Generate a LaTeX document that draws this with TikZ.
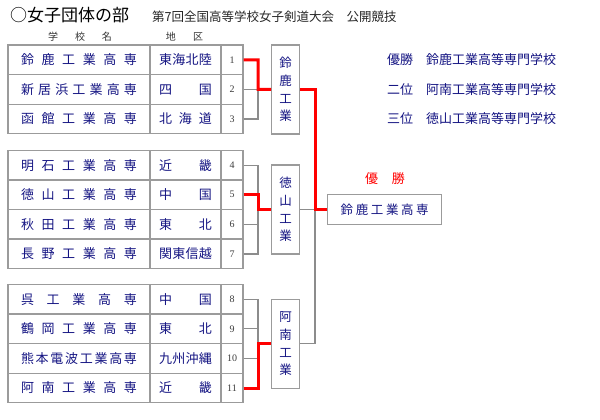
\documentclass[tikz,border=0pt]{standalone}
\usepackage{fontspec}
\newfontfamily\jp{Noto Sans CJK JP}
\newfontfamily\numf{Liberation Serif}
\definecolor{navy}{RGB}{20,20,130}
\definecolor{gridgray}{RGB}{155,155,155}
\definecolor{linegray}{RGB}{140,140,140}
\definecolor{numgray}{RGB}{60,60,60}
\tikzset{
  cellbase/.style={draw=gridgray, line width=1.3pt, minimum height=29.6pt, inner sep=0pt, text=navy, font=\jp\fontsize{13}{13}\selectfont},
  namecell/.style={cellbase, minimum width=142pt},
  regcell/.style={cellbase, minimum width=71pt},
  numcell/.style={cellbase, minimum width=22pt, text=numgray, font=\numf\fontsize{10}{10}\selectfont},
  winbox/.style={draw=gridgray, line width=1.3pt, minimum width=28pt, minimum height=89pt, inner sep=0pt, text=navy, align=center, font=\jp\fontsize{12.5}{17.7}\selectfont},
  finalbox/.style={draw=gridgray, line width=1.3pt, minimum width=114pt, minimum height=29.7pt, inner sep=0pt, text=navy, font=\jp\fontsize{12.5}{12.5}\selectfont},
  grayline/.style={draw=linegray, line width=1.2pt},
  redline/.style={draw=red, line width=3pt},
  plain/.style={inner sep=0pt, font=\jp}
}
\newcommand\schoolrow[4]{%
  \node[namecell] (n#1) at (79,#2) {\makebox[116pt][s]{#3}};
  \node[regcell] (r#1) at (185.5,#2) {\makebox[53pt][s]{#4}};
  \node[numcell] (k#1) at (232,#2) {#1};
}
\begin{document}
\begin{tikzpicture}[x=1pt,y=-1pt]
\useasboundingbox (0,0) rectangle (600,420);
% title
\node[plain, anchor=west, font=\jp\fontsize{17}{17}\selectfont] (title) at (10,15.5) {○女子団体の部};
\node[plain, anchor=west, font=\jp\fontsize{12.5}{12.5}\selectfont, text=black!85] (sub) at (152,17) {第7回全国高等学校女子剣道大会　公開競技};
% headers
\node[plain, font=\jp\fontsize{10}{10}\selectfont, text=black!80] (h1) at (80,37) {\makebox[64pt][s]{学\hfill 校\hfill 名}};
\node[plain, font=\jp\fontsize{10}{10}\selectfont, text=black!80] (h2) at (184.4,37) {\makebox[37.3pt][s]{地\hfill 区}};
% group 1
\schoolrow{1}{59.8}{鈴\hfill 鹿\hfill 工\hfill 業\hfill 高\hfill 専}{東\hfill 海\hfill 北\hfill 陸}
\schoolrow{2}{89.4}{新\hfill 居\hfill 浜\hfill 工\hfill 業\hfill 高\hfill 専}{四\hfill 国}
\schoolrow{3}{119.0}{函\hfill 館\hfill 工\hfill 業\hfill 高\hfill 専}{北\hfill 海\hfill 道}
% group 2
\schoolrow{4}{165.1}{明\hfill 石\hfill 工\hfill 業\hfill 高\hfill 専}{近\hfill 畿}
\schoolrow{5}{194.7}{徳\hfill 山\hfill 工\hfill 業\hfill 高\hfill 専}{中\hfill 国}
\schoolrow{6}{224.3}{秋\hfill 田\hfill 工\hfill 業\hfill 高\hfill 専}{東\hfill 北}
\schoolrow{7}{253.9}{長\hfill 野\hfill 工\hfill 業\hfill 高\hfill 専}{関\hfill 東\hfill 信\hfill 越}
% group 3
\schoolrow{8}{299.2}{呉\hfill 工\hfill 業\hfill 高\hfill 専}{中\hfill 国}
\schoolrow{9}{328.8}{鶴\hfill 岡\hfill 工\hfill 業\hfill 高\hfill 専}{東\hfill 北}
\schoolrow{10}{358.4}{熊\hfill 本\hfill 電\hfill 波\hfill 工\hfill 業\hfill 高\hfill 専}{九\hfill 州\hfill 沖\hfill 縄}
\schoolrow{11}{388.0}{阿\hfill 南\hfill 工\hfill 業\hfill 高\hfill 専}{近\hfill 畿}
% group winners
\node[winbox] (b1) at (285.7,89.5) {鈴\\鹿\\工\\業};
\node[winbox] (b2) at (285.7,209.5) {徳\\山\\工\\業};
\node[winbox] (b3) at (285.7,343.8) {阿\\南\\工\\業};
% final
\node[finalbox] (f) at (384.7,209.5) {\makebox[88pt][s]{鈴\hfill 鹿\hfill 工\hfill 業\hfill 高\hfill 専}};
\node[plain, text=red, font=\jp\fontsize{13}{13}\selectfont] (champ) at (385,179) {\makebox[39.6pt][s]{優\hfill 勝}};
% junctions
\coordinate (j1) at (258,89.4);
\coordinate (j2) at (258,209.5);
\coordinate (j3) at (258,343.8);
\coordinate (m) at (315,209.5);
% gray connectors
\draw[grayline] (k2.east) -- (j1);
\draw[grayline] (k3.east) -| (j1);
\draw[grayline] (k4.east) -| (j2);
\draw[grayline] (k6.east) -- (k6.east -| j2);
\draw[grayline] (k7.east) -| (j2);
\draw[grayline] (k8.east) -| (j3);
\draw[grayline] (k9.east) -- (k9.east -| j3);
\draw[grayline] (k10.east) -- (k10.east -| j3);
\draw[grayline] (b2.east) -- (m);
\draw[grayline] (b3.east) -| (m);
% red connectors
\draw[redline] (k1.east) -| (j1) -- (b1.west);
\draw[redline] (k5.east) -| (j2) -- (b2.west);
\draw[redline] (k11.east) -| (j3) -- (b3.west);
\draw[redline] (b1.east) -| (m) -- (f.west);
% results
\begin{scope}[every node/.style={plain, anchor=west, text=navy, font=\jp\fontsize{13}{13}\selectfont}]
\node (res1) at (387,60) {優勝　鈴鹿工業高等専門学校};
\node (res2) at (387,89.5) {二位　阿南工業高等専門学校};
\node (res3) at (387,119) {三位　徳山工業高等専門学校};
\end{scope}
\end{tikzpicture}
\end{document}
